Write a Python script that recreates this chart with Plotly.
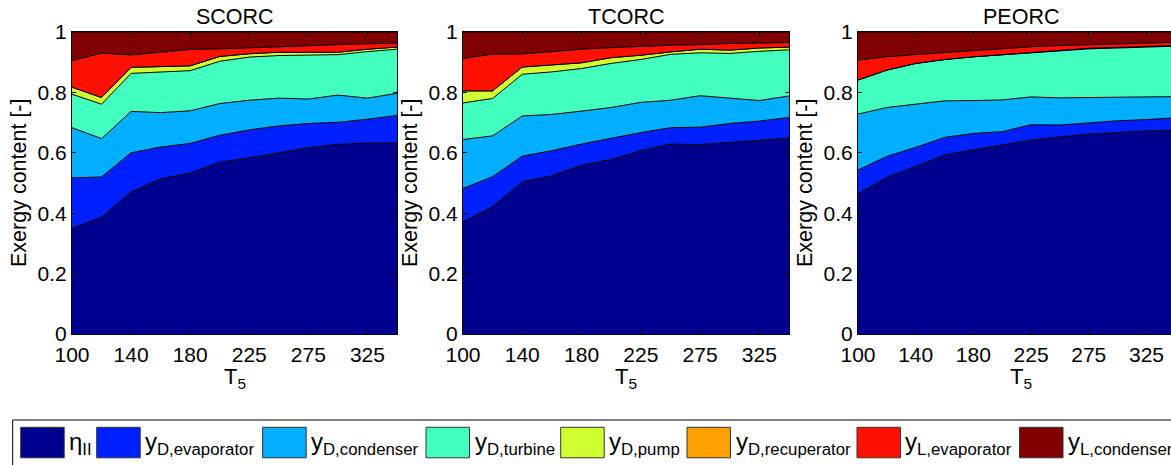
import plotly.graph_objects as go

W, H = 1171, 465

# ---------------- data ----------------
T5 = [100, 120, 140, 160, 180, 200, 225, 250, 275, 300, 325, 350]
X_CATS = [str(t) for t in T5]
TICK_LABELS = ["100", "140", "180", "225", "275", "325"]
PANEL_TITLES = ["SCORC", "TCORC", "PEORC"]

SERIES_LABELS = [
    "η<sub>II</sub>",
    "y<sub>D,evaporator</sub>",
    "y<sub>D,condenser</sub>",
    "y<sub>D,turbine</sub>",
    "y<sub>D,pump</sub>",
    "y<sub>D,recuperator</sub>",
    "y<sub>L,evaporator</sub>",
    "y<sub>L,condenser</sub>",
]
COLORS = ["#00008F", "#0020FF", "#00AFFF", "#40FFBF",
          "#CFFF30", "#FF9F00", "#FF1000", "#800000"]

# SCORC
scorc_eta = [0.350, 0.387, 0.470, 0.514, 0.533, 0.569, 0.583, 0.600, 0.617, 0.628, 0.633, 0.633]
scorc_yd_evap = [0.167, 0.133, 0.130, 0.105, 0.098, 0.089, 0.093, 0.089, 0.080, 0.073, 0.078, 0.091]
scorc_yd_cond = [0.166, 0.127, 0.137, 0.114, 0.108, 0.105, 0.098, 0.092, 0.081, 0.090, 0.070, 0.073]
scorc_yd_turb = [0.111, 0.114, 0.126, 0.134, 0.133, 0.140, 0.143, 0.141, 0.146, 0.134, 0.154, 0.146]
scorc_yd_pump = [0.023, 0.022, 0.020, 0.018, 0.016, 0.016, 0.011, 0.011, 0.010, 0.008, 0.008, 0.007]
scorc_yd_recup = [0.0] * 12
scorc_yl_evap = [0.088, 0.147, 0.041, 0.049, 0.054, 0.025, 0.020, 0.019, 0.020, 0.025, 0.018, 0.013]
scorc_yl_cond = [0.095, 0.070, 0.076, 0.066, 0.058, 0.056, 0.052, 0.048, 0.046, 0.042, 0.039, 0.037]

# TCORC
tcorc_eta = [0.372, 0.422, 0.504, 0.524, 0.559, 0.578, 0.607, 0.629, 0.627, 0.634, 0.642, 0.649]
tcorc_yd_evap = [0.110, 0.099, 0.085, 0.083, 0.070, 0.070, 0.060, 0.054, 0.058, 0.063, 0.063, 0.068]
tcorc_yd_cond = [0.162, 0.135, 0.133, 0.120, 0.109, 0.102, 0.100, 0.091, 0.104, 0.085, 0.068, 0.071]
tcorc_yd_turb = [0.121, 0.124, 0.138, 0.141, 0.141, 0.146, 0.142, 0.152, 0.142, 0.147, 0.163, 0.153]
tcorc_yd_pump = [0.040, 0.025, 0.024, 0.022, 0.019, 0.019, 0.014, 0.008, 0.012, 0.011, 0.011, 0.009]
tcorc_yd_recup = [0.0] * 12
tcorc_yl_evap = [0.107, 0.122, 0.043, 0.046, 0.045, 0.033, 0.030, 0.022, 0.015, 0.022, 0.016, 0.015]
tcorc_yl_cond = [0.088, 0.073, 0.073, 0.064, 0.057, 0.052, 0.047, 0.044, 0.042, 0.038, 0.037, 0.035]

# PEORC
peorc_eta = [0.464, 0.519, 0.555, 0.593, 0.610, 0.627, 0.642, 0.653, 0.662, 0.667, 0.673, 0.675]
peorc_yd_evap = [0.079, 0.069, 0.063, 0.058, 0.054, 0.043, 0.051, 0.039, 0.037, 0.039, 0.037, 0.041]
peorc_yd_cond = [0.185, 0.162, 0.143, 0.121, 0.109, 0.105, 0.092, 0.090, 0.084, 0.078, 0.075, 0.070]
peorc_yd_turb = [0.113, 0.124, 0.135, 0.137, 0.145, 0.150, 0.147, 0.157, 0.161, 0.163, 0.166, 0.167]
peorc_yd_pump = [0.0, 0.0, 0.0, 0.0, 0.0, 0.0, 0.001, 0.001, 0.002, 0.002, 0.002, 0.002]
peorc_yd_recup = [0.0] * 12
peorc_yl_evap = [0.066, 0.044, 0.029, 0.023, 0.019, 0.019, 0.018, 0.015, 0.012, 0.011, 0.011, 0.011]
peorc_yl_cond = [0.093, 0.082, 0.075, 0.068, 0.063, 0.056, 0.049, 0.045, 0.042, 0.040, 0.036, 0.034]

PANEL_DATA = [
    [scorc_eta, scorc_yd_evap, scorc_yd_cond, scorc_yd_turb, scorc_yd_pump,
     scorc_yd_recup, scorc_yl_evap, scorc_yl_cond],
    [tcorc_eta, tcorc_yd_evap, tcorc_yd_cond, tcorc_yd_turb, tcorc_yd_pump,
     tcorc_yd_recup, tcorc_yl_evap, tcorc_yl_cond],
    [peorc_eta, peorc_yd_evap, peorc_yd_cond, peorc_yd_turb, peorc_yd_pump,
     peorc_yd_recup, peorc_yl_evap, peorc_yl_cond],
]

# ---------------- layout helpers ----------------
FONT = "Liberation Sans, Arial, sans-serif"
FS_TICK = 21
FS_TITLE = 21.5
FS_LEG = 24


def px(x):
    return x / W


def py(y):
    return 1 - y / H


PANEL_LEFT = [72, 463, 858]
PANEL_RIGHT = [397, 789, 1171]
PANEL_W = 325
X_RANGES = [[0, 11], [0, 11], [0, 10.85]]
TOP, BOTTOM = 32, 334

fig = go.Figure()

for p in range(3):
    xa = "x" if p == 0 else f"x{p+1}"
    ya = "y" if p == 0 else f"y{p+1}"
    for s in range(8):
        fig.add_trace(go.Scatter(
            x=X_CATS, y=PANEL_DATA[p][s], xaxis=xa, yaxis=ya,
            mode="lines", stackgroup=f"g{p}",
            line=dict(color="black", width=1),
            fillcolor=COLORS[s], name=SERIES_LABELS[s], showlegend=False,
        ))

layout = dict(
    template="none",
    width=W, height=H,
    margin=dict(l=0, r=0, t=0, b=0, pad=0, autoexpand=False),
    paper_bgcolor="white", plot_bgcolor="white",
    font=dict(family=FONT, size=FS_TICK, color="black"),
    showlegend=False,
)

annotations = []
shapes = []
for p in range(3):
    sfx = "" if p == 0 else str(p + 1)
    layout[f"xaxis{sfx}"] = dict(
        domain=[px(PANEL_LEFT[p]), px(PANEL_RIGHT[p])],
        anchor=f"y{sfx}", type="category", range=X_RANGES[p],
        tickmode="array", tickvals=TICK_LABELS, ticktext=TICK_LABELS,
        ticks="inside", ticklen=4, tickcolor="black", ticklabelstandoff=2,
        showline=True, linecolor="black", linewidth=1, mirror="ticks",
        showgrid=False, zeroline=False, automargin=False,
        tickfont=dict(family=FONT, size=FS_TICK, color="black"),
    )
    layout[f"yaxis{sfx}"] = dict(
        domain=[py(BOTTOM), py(TOP)], anchor=f"x{sfx}",
        range=[0, 1], tickmode="array",
        tickvals=[0, 0.2, 0.4, 0.6, 0.8, 1], ticktext=["0", "0.2", "0.4", "0.6", "0.8", "1"],
        ticks="inside", ticklen=4, tickcolor="black",
        showline=True, linecolor="black", linewidth=1,
        mirror="ticks" if p < 2 else False,
        showgrid=False, zeroline=False, automargin=False,
        tickfont=dict(family=FONT, size=FS_TICK, color="black"),
    )
    cx = PANEL_LEFT[p] + PANEL_W / 2
    # panel title
    annotations.append(dict(text=PANEL_TITLES[p], xref="paper", yref="paper",
                            x=px(cx), y=py(17), xanchor="center", yanchor="middle",
                            showarrow=False, font=dict(family=FONT, size=FS_TITLE)))
    # y title
    annotations.append(dict(text="Exergy content [-]", xref="paper", yref="paper",
                            x=px(PANEL_LEFT[p] - 53), y=py((TOP + BOTTOM) / 2),
                            xanchor="center", yanchor="middle", textangle=-90,
                            showarrow=False, font=dict(family=FONT, size=FS_TITLE)))
    # x title
    annotations.append(dict(text="T<sub>5</sub>", xref="paper", yref="paper",
                            x=px(cx), y=py(378), xanchor="center", yanchor="middle",
                            showarrow=False, font=dict(family=FONT, size=22)))

# legend box (drawn manually)
shapes.append(dict(type="rect", xref="paper", yref="paper",
                   x0=px(12.7), x1=px(W + 5), y0=py(420), y1=py(H + 5),
                   line=dict(color="black", width=1), fillcolor="white", layer="below"))
SWATCH_X = [20.7, 96.7, 262.7, 426, 560.7, 687, 857, 1019.5]
SW_W, SW_Y0, SW_Y1 = 43.5, 427.3, 457.8
for s in range(8):
    shapes.append(dict(type="rect", xref="paper", yref="paper",
                       x0=px(SWATCH_X[s]), x1=px(SWATCH_X[s] + SW_W),
                       y0=py(SW_Y1), y1=py(SW_Y0),
                       line=dict(color="#333333", width=1), fillcolor=COLORS[s]))
    annotations.append(dict(text=SERIES_LABELS[s], xref="paper", yref="paper",
                            x=px(SWATCH_X[s] + SW_W + 3), y=py(443),
                            xanchor="left", yanchor="middle", showarrow=False,
                            font=dict(family=FONT, size=FS_LEG)))

layout["annotations"] = annotations
layout["shapes"] = shapes
fig.update_layout(**layout)

fig.write_html("out.html")
